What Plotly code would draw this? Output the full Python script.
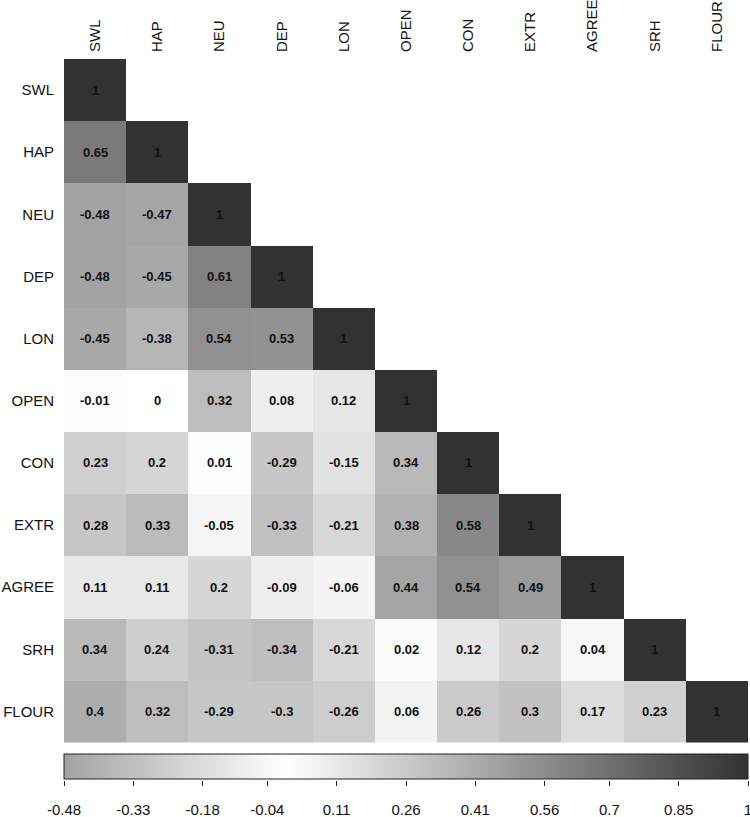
import plotly.graph_objects as go

labels = ["SWL", "HAP", "NEU", "DEP", "LON", "OPEN", "CON", "EXTR", "AGREE", "SRH", "FLOUR"]

row_SWL = [1]
row_HAP = [0.65, 1]
row_NEU = [-0.48, -0.47, 1]
row_DEP = [-0.48, -0.45, 0.61, 1]
row_LON = [-0.45, -0.38, 0.54, 0.53, 1]
row_OPEN = [-0.01, 0, 0.32, 0.08, 0.12, 1]
row_CON = [0.23, 0.2, 0.01, -0.29, -0.15, 0.34, 1]
row_EXTR = [0.28, 0.33, -0.05, -0.33, -0.21, 0.38, 0.58, 1]
row_AGREE = [0.11, 0.11, 0.2, -0.09, -0.06, 0.44, 0.54, 0.49, 1]
row_SRH = [0.34, 0.24, -0.31, -0.34, -0.21, 0.02, 0.12, 0.2, 0.04, 1]
row_FLOUR = [0.4, 0.32, -0.29, -0.3, -0.26, 0.06, 0.26, 0.3, 0.17, 0.23, 1]

colorbar_ticks = [-0.48, -0.33, -0.18, -0.04, 0.11, 0.26, 0.41, 0.56, 0.7, 0.85, 1]
zmin, zmax = -0.48, 1.0

rows = [row_SWL, row_HAP, row_NEU, row_DEP, row_LON, row_OPEN, row_CON,
        row_EXTR, row_AGREE, row_SRH, row_FLOUR]
n = len(labels)
z = [r + [None] * (n - len(r)) for r in rows]

FONT = "Liberation Sans, Arial, sans-serif"
white_pos = (0 - zmin) / (zmax - zmin)
colorscale = [[0, "rgb(163,163,163)"], [white_pos, "rgb(255,255,255)"], [1, "rgb(50,50,50)"]]

fig = go.Figure()
fig.add_trace(go.Heatmap(
    z=z, x=list(range(n)), y=list(range(n)),
    zmin=zmin, zmax=zmax, colorscale=colorscale,
    hoverongaps=False, xgap=0, ygap=0,
    colorbar=dict(
        orientation="h", x=0.5, xanchor="center", y=0, yanchor="bottom",
        len=1, lenmode="fraction", thickness=25, thicknessmode="pixels",
        xpad=0, ypad=0, outlinewidth=1, outlinecolor="#222",
        ticks="", showticklabels=False,
    ),
))
# invisible helper trace so the colour-scale axis (x2) is drawn
fig.add_trace(go.Scatter(
    x=colorbar_ticks, y=[None] * len(colorbar_ticks), xaxis="x2", yaxis="y",
    mode="markers", marker=dict(opacity=0), showlegend=False, hoverinfo="skip",
))

annotations = []
for i, r in enumerate(rows):
    for j, v in enumerate(r):
        annotations.append(dict(
            x=j, y=i, xref="x", yref="y", text=f"<b>{v:g}</b>", showarrow=False,
            font=dict(family=FONT, size=13, color="#111"),
        ))

fig.update_layout(
    autosize=False, width=750, height=817,
    margin=dict(l=64, r=2, t=59, b=37, pad=0, autoexpand=False),
    plot_bgcolor="white", paper_bgcolor="white",
    annotations=annotations,
    font=dict(family=FONT, color="#111"),
    xaxis=dict(
        side="top", tickmode="array", tickvals=list(range(n)), ticktext=labels,
        tickangle=-90, showgrid=False, zeroline=False, showline=False,
        range=[-0.5, n - 0.5], ticks="", ticklabelstandoff=6, automargin=False,
        tickfont=dict(family=FONT, size=15, color="#111"), fixedrange=True,
        ticklabeloverflow="allow",
    ),
    xaxis2=dict(
        overlaying="x", anchor="free", position=0, side="bottom",
        range=[zmin, zmax], tickmode="array", tickvals=colorbar_ticks,
        ticktext=[f"{t:g}" for t in colorbar_ticks],
        ticks="outside", ticklen=5, tickcolor="#222", tickwidth=1,
        ticklabelstandoff=11, showgrid=False, zeroline=False, showline=False,
        automargin=False, fixedrange=True, ticklabeloverflow="allow",
        tickfont=dict(family=FONT, size=15, color="#111"),
    ),
    yaxis=dict(
        domain=[0.052, 1],
        tickmode="array", tickvals=list(range(n)), ticktext=labels,
        autorange=False, range=[n - 0.5, -0.5], showgrid=False, zeroline=False,
        showline=False, ticks="", ticklabelstandoff=9, automargin=False,
        tickfont=dict(family=FONT, size=15, color="#111"), fixedrange=True,
    ),
)

post = (
    "document.body.style.margin='0';"
    "document.body.style.padding='0';"
    "document.body.style.overflow='hidden';"
    "var gd=document.getElementById('{plot_id}');"
    "Plotly.relayout(gd,{width:750,height:817});"
)
fig.write_html("out.html", post_script=post, config={"displayModeBar": False})
